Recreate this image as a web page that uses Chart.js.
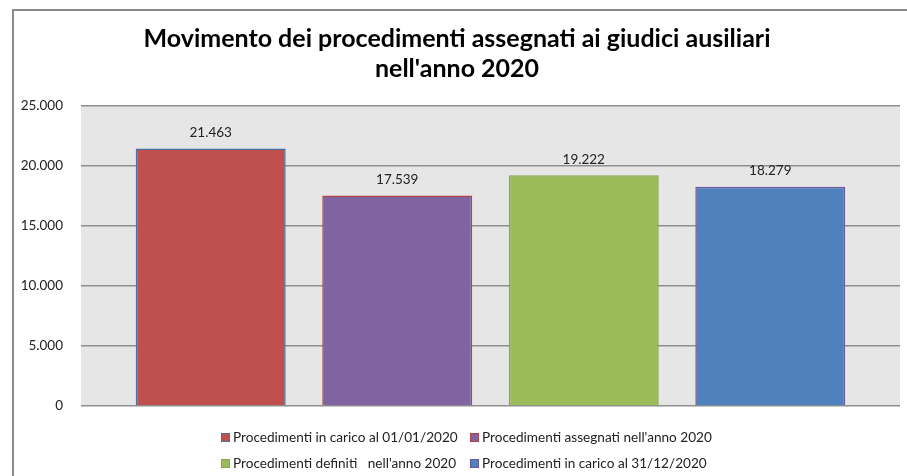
<!DOCTYPE html>
<html>
<head>
<meta charset="utf-8">
<script src="https://cdn.jsdelivr.net/npm/chart.js@4.4.0/dist/chart.umd.min.js"></script>
<style>
  html, body { margin: 0; padding: 0; background: #fff; overflow: hidden; }
  #frame {
    position: absolute; left: 12px; top: 9px;
    width: 920px; height: 480px;
    border-left: 2px solid #8a8a8a; border-top: 2px solid #8a8a8a;
  }
  #wrap { position: absolute; left: 0; top: 0; width: 901px; height: 421px; }
  #legend {
    position: absolute; left: 207px; top: 413px;
    display: grid; grid-template-columns: 249px auto; row-gap: 0;
    font-family: Lato, sans-serif; font-size: 13.6px; color: #222;
  }
  #legend .item { display: flex; align-items: center; height: 26px; white-space: pre; }
  #legend .box { width: 7px; height: 7px; border: 1.5px solid; margin-right: 3px; }
</style>
</head>
<body>
<div id="frame">
  <div id="wrap"><canvas id="chart"></canvas></div>
  <div id="legend"></div>
</div>
<script>
var titleLines = ["Movimento dei procedimenti assegnati ai giudici ausiliari", "nell'anno 2020"];
var seriesNames = [
  "Procedimenti in carico al 01/01/2020",
  "Procedimenti assegnati nell'anno 2020",
  "Procedimenti definiti   nell'anno 2020",
  "Procedimenti in carico al 31/12/2020"
];
var seriesValues = [21463, 17539, 19222, 18279];
var fillColors = ['#c0504d', '#8064a2', '#9bbb59', '#4f81bd'];
var borderColors = ['#4a6fa5', '#b04545', '#86a84c', '#6a5a9a'];
var yMax = 25000;
var yStep = 5000;

function fmt(v) {
  return String(v).replace(/\B(?=(\d{3})+(?!\d))/g, '.');
}

var datasets = seriesNames.map(function (name, i) {
  return {
    label: name,
    data: [seriesValues[i]],
    backgroundColor: fillColors[i],
    borderColor: borderColors[i],
    borderWidth: 1.5,
    categoryPercentage: 0.911,
    barPercentage: 0.804
  };
});

// grey plot area
var plotBg = {
  id: 'plotBg',
  beforeDraw: function (chart) {
    var a = chart.chartArea, ctx = chart.ctx;
    ctx.save();
    ctx.fillStyle = '#e6e6e6';
    ctx.fillRect(a.left, a.top, a.right - a.left, a.bottom - a.top);
    ctx.restore();
  }
};

// value labels over the bars
var valueLabels = {
  id: 'valueLabels',
  afterDatasetsDraw: function (chart) {
    var ctx = chart.ctx;
    ctx.save();
    ctx.font = '13.5px Lato, sans-serif';
    ctx.fillStyle = '#222';
    ctx.textAlign = 'center';
    ctx.textBaseline = 'middle';
    chart.data.datasets.forEach(function (ds, i) {
      var bar = chart.getDatasetMeta(i).data[0];
      ctx.fillText(fmt(ds.data[0]), bar.x, bar.y - 16);
    });
    ctx.restore();
  }
};

// legend as html, two rows
var htmlLegend = {
  id: 'htmlLegend',
  afterUpdate: function (chart) {
    var el = document.getElementById('legend');
    el.innerHTML = '';
    chart.data.datasets.forEach(function (ds) {
      var item = document.createElement('div');
      item.className = 'item';
      var box = document.createElement('span');
      box.className = 'box';
      box.style.background = ds.backgroundColor;
      box.style.borderColor = ds.borderColor;
      var txt = document.createElement('span');
      txt.textContent = ds.label;
      item.appendChild(box);
      item.appendChild(txt);
      el.appendChild(item);
    });
  }
};

var ctx = document.getElementById('chart').getContext('2d');
var chart = new Chart(ctx, {
  type: 'bar',
  data: {
    labels: [''],
    datasets: datasets
  },
  options: {
    responsive: true,
    maintainAspectRatio: false,
    animation: false,
    layout: { padding: { left: 0, right: 15, top: 0, bottom: 7 } },
    plugins: {
      legend: { display: false },
      tooltip: { enabled: false },
      title: {
        display: true,
        text: titleLines,
        color: '#000',
        font: { family: 'Lato, sans-serif', size: 25, weight: 'bold', lineHeight: 1.2 },
        padding: { top: 13, bottom: 22 }
      }
    },
    scales: {
      x: { display: false },
      y: {
        min: 0,
        max: yMax,
        afterFit: function (scale) { scale.width = 67; },
        border: { display: false },
        grid: { color: '#8f8f8f', lineWidth: 1.5, drawTicks: false },
        ticks: {
          stepSize: yStep,
          padding: 18,
          color: '#222',
          font: { family: 'Lato, sans-serif', size: 13.5 },
          callback: function (v) { return fmt(v); }
        }
      }
    }
  },
  plugins: [plotBg, valueLabels, htmlLegend]
});
</script>
</body>
</html>
